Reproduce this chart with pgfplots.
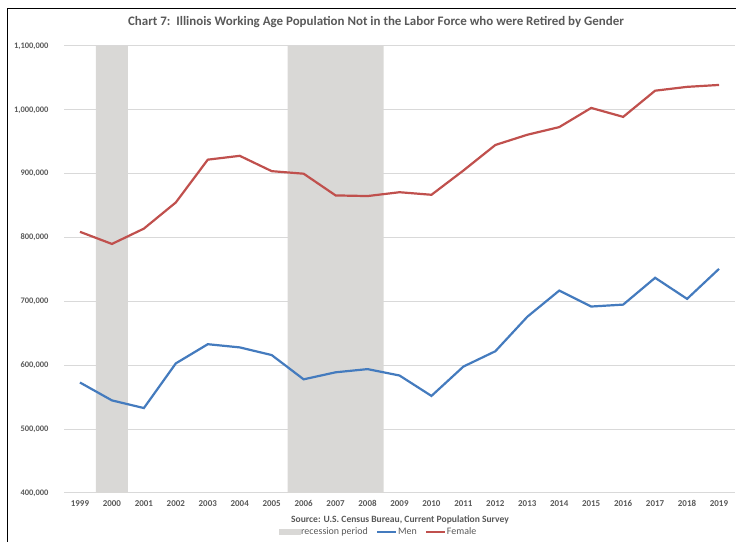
\documentclass[border=0pt]{standalone}
\usepackage{pgfplots}
\pgfplotsset{compat=1.18}
\usepackage{fontspec}
\setmainfont{Carlito}
\definecolor{recg}{RGB}{217,216,214}
\definecolor{menb}{RGB}{68,123,190}
\definecolor{femr}{RGB}{192,80,77}
\definecolor{gridc}{RGB}{217,217,217}
\definecolor{txt}{RGB}{89,89,89}
\begin{document}
\begin{tikzpicture}[x=1bp,y=1bp]
\useasboundingbox (0,0) rectangle (736,542);
\draw[black, line width=0.8bp] (7,0) -- (7,534) -- (736,534);
\node[font=\bfseries\fontsize{13}{15}\selectfont, text=txt] at (376,520) {Chart 7:\ \ Illinois Working Age Population Not in the Labor Force who were Retired by Gender};
\node[font=\bfseries\fontsize{9.6}{10}\selectfont, text=txt, inner sep=0pt] at (400,22.5) {Source: U.S. Census Bureau, Current Population Survey};
\begin{axis}[
  at={(64bp,49bp)}, anchor=south west,
  width=671bp, height=447bp, scale only axis,
  xmin=1998.5, xmax=2019.5,
  ymin=400000, ymax=1100000,
  xtick={1999,...,2019},
  ytick={400000,500000,...,1100000},
  xticklabel style={font=\bfseries\fontsize{9}{10}\selectfont, text=txt, text height=6.5bp, text depth=0bp, yshift=-3bp},
  yticklabel style={font=\bfseries\fontsize{8.5}{10}\selectfont, text=txt, xshift=-12bp},
  /pgf/number format/.cd, fixed, 1000 sep={,}, assume math mode=true,
  /pgfplots/.cd,
  scaled y ticks=false,
  x tick label style={/pgf/number format/1000 sep={}},
  axis line style={draw=none},
  major tick style={draw=none},
  ymajorgrids,
  grid style={gridc, line width=1bp},
  legend style={at={(0.468,-0.087)}, anchor=center, draw=none, fill=none,
    legend columns=3, font=\fontsize{10}{10}\selectfont, text=txt,
    inner sep=0pt, outer sep=0pt,
    /tikz/every even column/.append style={column sep=8bp},
    nodes={inner sep=0.5bp}},
  legend cell align=left,
]
\addlegendimage{legend image code/.code={\fill[recg] (0bp,-2.5bp) rectangle (21bp,2.5bp);}}
\addlegendentry{recession period}
\addplot[fill=recg, draw=none, forget plot] coordinates {(1999.5,400000) (1999.5,1100000) (2000.5,1100000) (2000.5,400000)} \closedcycle;
\addplot[fill=recg, draw=none, forget plot] coordinates {(2005.5,400000) (2005.5,1100000) (2008.5,1100000) (2008.5,400000)} \closedcycle;
\addplot[menb, line width=2.2bp, mark=none, legend image code/.code={\draw[menb, line width=2.2bp] (0bp,0bp) -- (19bp,0bp);}] coordinates {
(1999,573000) (2000,545000) (2001,533000) (2002,603000) (2003,633000) (2004,628000) (2005,616000) (2006,578000) (2007,589000) (2008,594000) (2009,584000) (2010,552000) (2011,598000) (2012,622000) (2013,676000) (2014,717000) (2015,692000) (2016,695000) (2017,737000) (2018,704000) (2019,751000)};
\addlegendentry{Men}
\addplot[femr, line width=2.2bp, mark=none, legend image code/.code={\draw[femr, line width=2.2bp] (0bp,0bp) -- (19bp,0bp);}] coordinates {
(1999,809000) (2000,790000) (2001,814000) (2002,855000) (2003,922000) (2004,928000) (2005,904000) (2006,900000) (2007,866000) (2008,865000) (2009,871000) (2010,867000) (2011,905000) (2012,945000) (2013,961000) (2014,973000) (2015,1003000) (2016,989000) (2017,1030000) (2018,1036000) (2019,1039000)};
\addlegendentry{Female}
\end{axis}
\end{tikzpicture}
\end{document}
